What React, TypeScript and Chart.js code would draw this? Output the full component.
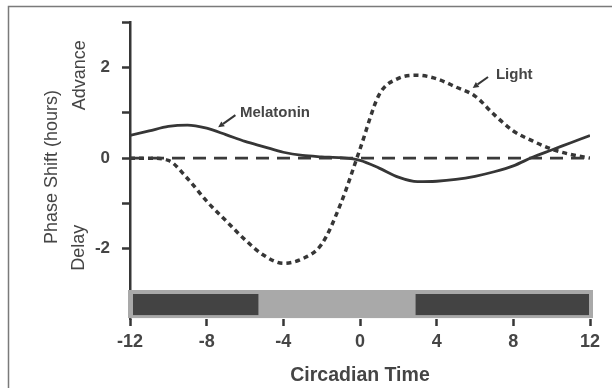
import React, { useEffect, useRef } from "react";
import { Chart, registerables } from "chart.js";

Chart.register(...registerables);

// Circadian time (hours)
const circadianTime = [-12, -11, -10, -9, -8, -7, -6, -5, -4, -3, -2, -1, 0, 1, 2, 3, 4, 5, 6, 7, 8, 9, 10, 11, 12];
// Phase shift (hours)
const melatoninShift = [0.5, 0.6, 0.7, 0.73, 0.66, 0.52, 0.37, 0.25, 0.13, 0.06, 0.03, 0.01, -0.05, -0.22, -0.42, -0.52, -0.51, -0.47, -0.4, -0.3, -0.17, 0.02, 0.18, 0.34, 0.5];
const lightShift = [0, 0, -0.05, -0.45, -0.95, -1.38, -1.8, -2.15, -2.32, -2.22, -1.9, -1.0, 0.2, 1.4, 1.76, 1.83, 1.75, 1.57, 1.37, 0.96, 0.6, 0.38, 0.2, 0.08, 0];
const xTicks = [-12, -8, -4, 0, 4, 8, 12];
const yTicks = [-2, -1, 0, 1, 2, 3];
const yLabeled = [-2, 0, 2];
// Dark (night) periods on the light/dark bar, in circadian time
const darkPeriods: [number, number][] = [[-12, -5.3], [2.9, 12]];
const barSpan: [number, number] = [-12, 12];

const FONT = "'Liberation Sans', Arial, Helvetica, sans-serif";
const TEXT = "#454545";
const INK = "#363636";

const overlay = {
  id: "overlay",
  afterDraw(chart: any) {
    const ctx = chart.ctx as CanvasRenderingContext2D;
    const xs = chart.scales.x;
    const ys = chart.scales.y;
    const px = (v: number) => xs.getPixelForValue(v);
    const py = (v: number) => ys.getPixelForValue(v);
    ctx.save();

    // frame
    ctx.strokeStyle = "#7a7a7a";
    ctx.lineWidth = 1.5;
    ctx.beginPath();
    ctx.moveTo(8.5, 388);
    ctx.lineTo(8.5, 6.5);
    ctx.lineTo(612, 6.5);
    ctx.stroke();

    // light/dark bar
    const top = py(-2.91);
    const bot = py(-3.53);
    const L = px(barSpan[0]) - 2;
    const R = px(barSpan[1]) + 3;
    ctx.fillStyle = "#a9a9a9";
    ctx.fillRect(L, top, R - L, bot - top);
    ctx.fillStyle = "#434343";
    for (const [s, e] of darkPeriods) {
      const a = Math.max(px(s), L + 5);
      const b = Math.min(px(e), R - 4);
      ctx.fillRect(a, top + 4, b - a, bot - top - 7);
    }

    // rotated y texts
    const rot = (text: string, cx: number, cy: number, font: string) => {
      ctx.save();
      ctx.translate(cx, cy);
      ctx.rotate(-Math.PI / 2);
      ctx.font = font;
      ctx.fillStyle = TEXT;
      ctx.textAlign = "center";
      ctx.textBaseline = "middle";
      ctx.fillText(text, 0, 0);
      ctx.restore();
    };
    rot("Phase Shift (hours)", 52, 167, `18px ${FONT}`);
    rot("Advance", 80, py(1.83), `18px ${FONT}`);
    rot("Delay", 79, py(-1.98), `18px ${FONT}`);

    // x title
    ctx.font = `bold 19.5px ${FONT}`;
    ctx.fillStyle = TEXT;
    ctx.textAlign = "center";
    ctx.textBaseline = "middle";
    ctx.fillText("Circadian Time", (chart.chartArea.left + chart.chartArea.right) / 2, 376);

    // annotations
    const arrow = (x1: number, y1: number, x2: number, y2: number) => {
      ctx.strokeStyle = INK;
      ctx.fillStyle = INK;
      ctx.lineWidth = 2;
      const ang = Math.atan2(y2 - y1, x2 - x1);
      const hl = 6;
      const bx = x2 - hl * Math.cos(ang);
      const by = y2 - hl * Math.sin(ang);
      ctx.beginPath();
      ctx.moveTo(x1, y1);
      ctx.lineTo(bx, by);
      ctx.stroke();
      ctx.beginPath();
      ctx.moveTo(x2, y2);
      ctx.lineTo(bx + 3 * Math.sin(ang), by - 3 * Math.cos(ang));
      ctx.lineTo(bx - 3 * Math.sin(ang), by + 3 * Math.cos(ang));
      ctx.closePath();
      ctx.fill();
    };
    arrow(px(-6.5), py(0.95), px(-7.4), py(0.68));
    arrow(px(6.68), py(1.79), px(5.88), py(1.55));
    ctx.font = `bold 15px ${FONT}`;
    ctx.fillStyle = TEXT;
    ctx.textAlign = "left";
    ctx.textBaseline = "middle";
    ctx.fillText("Melatonin", px(-6.26), py(0.99));
    ctx.fillText("Light", px(7.09), py(1.84));

    ctx.restore();
  },
};

export default function App() {
  const ref = useRef<HTMLCanvasElement | null>(null);
  useEffect(() => {
    if (!ref.current) return;
    const chart = new Chart(ref.current, {
      type: "line",
      data: {
        datasets: [
          {
            label: "zero",
            data: [{ x: -12, y: 0 }, { x: 12, y: 0 }],
            borderColor: "#3a3a3a",
            borderWidth: 2.8,
            borderDash: [13, 8],
            pointRadius: 0,
          },
          {
            label: "Melatonin",
            data: circadianTime.map((t, i) => ({ x: t, y: melatoninShift[i] })),
            borderColor: INK,
            borderWidth: 2.8,
            pointRadius: 0,
            cubicInterpolationMode: "monotone",
          },
          {
            label: "Light",
            data: circadianTime.map((t, i) => ({ x: t, y: lightShift[i] })),
            borderColor: INK,
            borderWidth: 3.5,
            borderDash: [5, 4],
            borderCapStyle: "butt",
            pointRadius: 0,
            cubicInterpolationMode: "monotone",
          },
        ],
      },
      options: {
        animation: false,
        responsive: false,
        layout: { padding: { top: 22, right: 22, left: 0, bottom: 0 } },
        plugins: { legend: { display: false }, tooltip: { enabled: false } },
        scales: {
          x: {
            type: "linear",
            min: -12,
            max: 12,
            afterBuildTicks: (s: any) => {
              s.ticks = xTicks.map((v) => ({ value: v }));
            },
            afterFit: (s: any) => {
              s.height = 69;
            },
            border: { display: false },
            grid: { drawOnChartArea: false, tickLength: 7, tickColor: INK, tickWidth: 2.5 },
            ticks: {
              font: { family: FONT, size: 18, weight: "bold" },
              color: TEXT,
              padding: 5,
              maxRotation: 0,
              callback: (v: any) => String(v),
            },
          },
          y: {
            type: "linear",
            min: -3.55,
            max: 3,
            afterBuildTicks: (s: any) => {
              s.ticks = yTicks.map((v) => ({ value: v }));
            },
            afterFit: (s: any) => {
              s.width = 130;
            },
            border: { display: true, color: INK, width: 2.5 },
            grid: { drawOnChartArea: false, tickLength: 8, tickColor: INK, tickWidth: 2.5 },
            ticks: {
              font: { family: FONT, size: 17, weight: "bold" },
              color: TEXT,
              padding: 12,
              callback: (v: any) => (yLabeled.includes(Number(v)) ? String(v) : ""),
            },
          },
        },
      },
      plugins: [overlay],
    } as any);
    return () => chart.destroy();
  }, []);
  return (
    <div style={{ position: "fixed", left: 0, top: 0, width: 612, height: 388, background: "#fff" }}>
      <canvas ref={ref} width={612} height={388} style={{ display: "block" }} />
    </div>
  );
}
